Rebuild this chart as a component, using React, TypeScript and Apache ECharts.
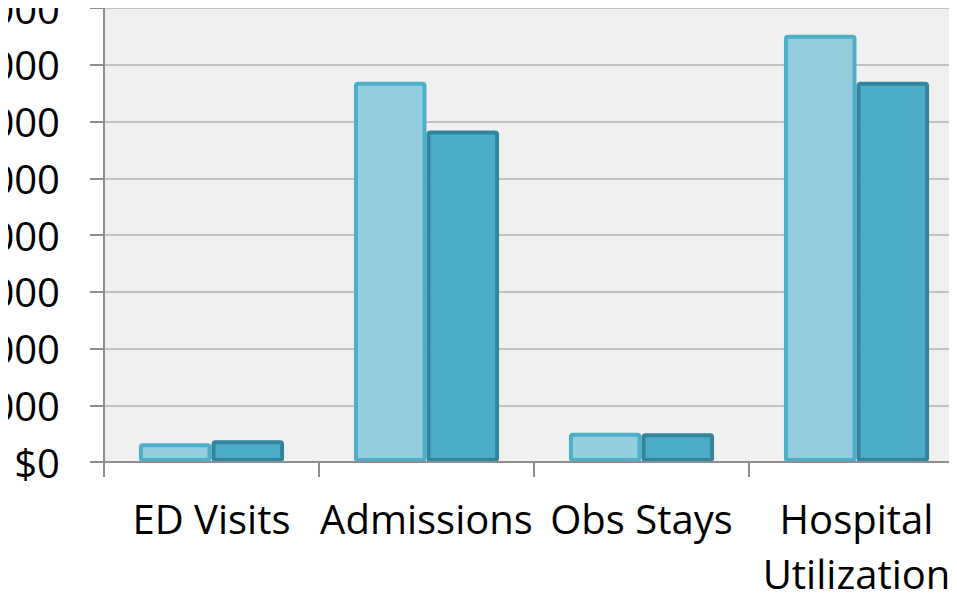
import React, { useEffect, useRef } from "react";
import * as echarts from "echarts";

// Utilization cost by category, two periods
const categories = ["ED Visits", "Admissions", "Obs Stays", "Hospital Utilization"];
const periodA = [330, 6700, 515, 7530];
const periodB = [385, 5840, 505, 6700];
const yTicks = { min: 0, max: 8000, interval: 1000 };

const FONT = "'Open Sans', 'Noto Sans', sans-serif";

export default function App() {
  const ref = useRef<HTMLDivElement>(null);

  useEffect(() => {
    if (!ref.current) return;
    const chart = echarts.init(ref.current, undefined, { renderer: "svg" });
    chart.setOption({
      animation: false,
      grid: {
        left: 104,
        top: 8,
        right: -7,
        bottom: 136,
        containLabel: false,
        outerBoundsMode: "none",
        show: true,
        backgroundColor: "#f0f0f0",
        borderWidth: 0,
      },
      xAxis: {
        type: "category",
        data: categories,
        z: 5,
        axisLine: { show: true, lineStyle: { color: "#8e8e8e", width: 2 } },
        axisTick: { show: true, alignWithLabel: false, length: 15, lineStyle: { color: "#8e8e8e", width: 2 } },
        axisLabel: {
          interval: 0,
          margin: 29,
          color: "#000",
          fontFamily: FONT,
          fontSize: 40,
          lineHeight: 55,
          formatter: (v: string) => (v === "Hospital Utilization" ? "Hospital\nUtilization" : v),
        },
      },
      yAxis: {
        type: "value",
        min: yTicks.min,
        max: yTicks.max,
        interval: yTicks.interval,
        axisLine: { show: true, lineStyle: { color: "#8e8e8e", width: 2 } },
        axisTick: { show: true, length: 14, lineStyle: { color: "#8e8e8e", width: 2 } },
        splitLine: { show: true, lineStyle: { color: "#c2c2c2", width: 2 } },
        axisLabel: {
          margin: 44,
          color: "#000",
          fontFamily: FONT,
          fontSize: 40,
          formatter: (v: number) => "$" + v.toLocaleString("en-US"),
        },
      },
      series: [
        {
          type: "bar",
          data: periodA,
          barGap: "0%",
          barCategoryGap: "32.5%",
          itemStyle: {
            color: "#94cddd",
            borderColor: "#4eafc8",
            borderWidth: 4,
            borderRadius: 2,
          },
        },
        {
          type: "bar",
          data: periodB,
          barGap: "0%",
          barCategoryGap: "32.5%",
          itemStyle: {
            color: "#4aacc6",
            borderColor: "#32859c",
            borderWidth: 4,
            borderRadius: 2,
          },
        },
      ],
    });
    return () => chart.dispose();
  }, []);

  return <div ref={ref} style={{ width: 957, height: 598, margin: -8 }} />;
}
